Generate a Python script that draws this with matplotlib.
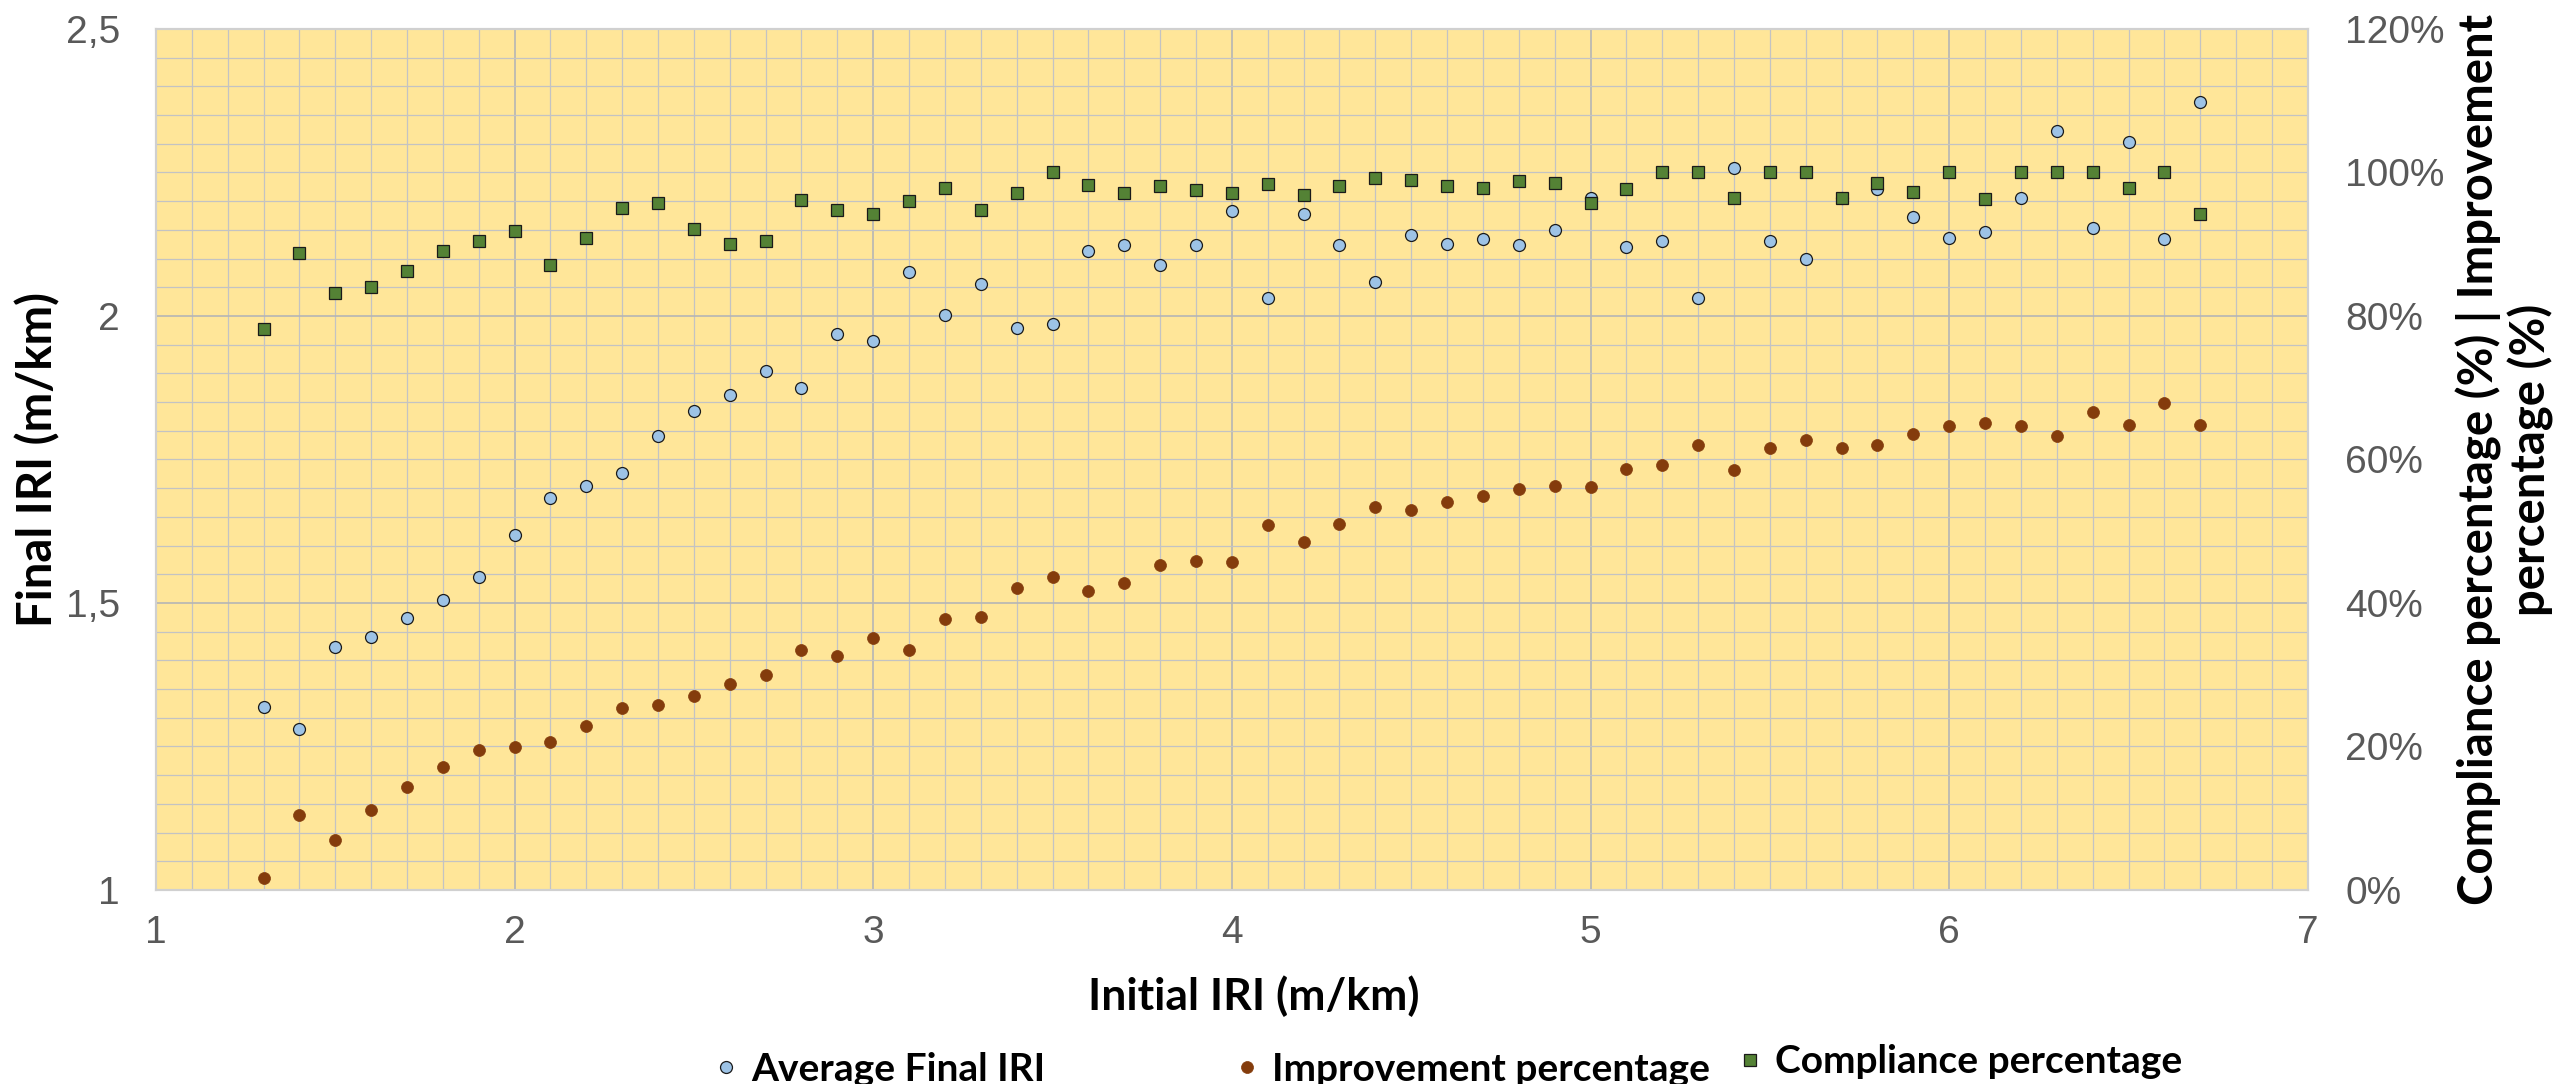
import matplotlib
matplotlib.use('Agg')
import matplotlib.pyplot as plt
from matplotlib.ticker import MultipleLocator, FuncFormatter, PercentFormatter

# Initial IRI classes (m/km)
initial_iri = [1.3, 1.4, 1.5, 1.6, 1.7, 1.8, 1.9, 2.0,
               2.1, 2.2, 2.3, 2.4, 2.5, 2.6, 2.7, 2.8, 2.9, 3.0,
               3.1, 3.2, 3.3, 3.4, 3.5, 3.6, 3.7, 3.8, 3.9, 4.0,
               4.1, 4.2, 4.3, 4.4, 4.5, 4.6, 4.7, 4.8, 4.9, 5.0,
               5.1, 5.2, 5.3, 5.4, 5.5, 5.6, 5.7, 5.8, 5.9, 6.0,
               6.1, 6.2, 6.3, 6.4, 6.5, 6.6, 6.7]

# Average final IRI (m/km), left axis
final_iri = [1.319, 1.280, 1.424, 1.441, 1.473, 1.506, 1.545, 1.618,
             1.683, 1.704, 1.726, 1.791, 1.835, 1.863, 1.904, 1.874, 1.968, 1.956,
             2.076, 2.001, 2.056, 1.979, 1.986, 2.113, 2.124, 2.088, 2.124, 2.182,
             2.031, 2.178, 2.123, 2.059, 2.141, 2.125, 2.134, 2.123, 2.149, 2.206,
             2.120, 2.131, 2.031, 2.257, 2.131, 2.100, 2.205, 2.221, 2.173, 2.136,
             2.146, 2.206, 2.323, 2.153, 2.303, 2.134, 2.373]

# Improvement percentage (%), right axis
improvement_pct = [1.6, 10.5, 6.9, 11.2, 14.4, 17.2, 19.5, 19.9,
                   20.6, 22.9, 25.4, 25.8, 27.0, 28.7, 29.9, 33.4, 32.6, 35.1,
                   33.4, 37.8, 38.0, 42.1, 43.6, 41.7, 42.8, 45.3, 45.9, 45.7,
                   50.8, 48.5, 51.0, 53.4, 52.9, 54.1, 54.9, 55.9, 56.3, 56.2,
                   58.7, 59.2, 62.0, 58.5, 61.6, 62.7, 61.6, 62.0, 63.5, 64.6,
                   65.1, 64.6, 63.3, 66.6, 64.8, 67.9, 64.8]

# Compliance percentage (%), right axis
compliance_pct = [78.2, 88.8, 83.2, 84.0, 86.3, 89.0, 90.5, 91.9,
                  87.1, 90.9, 95.0, 95.7, 92.1, 90.0, 90.5, 96.1, 94.8, 94.2,
                  96.0, 97.8, 94.8, 97.1, 100.0, 98.2, 97.1, 98.1, 97.5, 97.1,
                  98.4, 96.9, 98.1, 99.2, 99.0, 98.1, 97.9, 98.8, 98.5, 95.7,
                  97.7, 100.0, 100.0, 96.5, 100.0, 100.0, 96.5, 98.5, 97.3, 100.0,
                  96.3, 100.0, 100.0, 100.0, 97.8, 100.0, 94.2]

legend_labels = ['Average Final IRI', 'Improvement percentage', 'Compliance percentage']

plt.rcParams['font.family'] = ['Liberation Sans', 'DejaVu Sans']
LABEL_FONT = ['Lato', 'DejaVu Sans']
TICK_COLOR = '#595959'

fig = plt.figure(figsize=(25.6, 10.84), dpi=100)
ax = fig.add_axes([0.0609, 0.179, 0.8406, 0.7943])
ax2 = ax.twinx()

ax.set_facecolor('#FFE699')
ax.set_xlim(1, 7)
ax.set_ylim(1, 2.5)
ax2.set_ylim(0, 120)

# grid every 0.1 on x and every 0.05 on the left axis
ax.xaxis.set_major_locator(MultipleLocator(1))
ax.xaxis.set_minor_locator(MultipleLocator(0.1))
ax.yaxis.set_major_locator(MultipleLocator(0.5))
ax.yaxis.set_minor_locator(MultipleLocator(0.05))
ax2.yaxis.set_major_locator(MultipleLocator(20))
ax.grid(which='major', color='#B5B5B5', linewidth=1.2)
ax.grid(which='minor', color='#C3C3C3', linewidth=0.9)
ax.set_axisbelow(True)

ax.yaxis.set_major_formatter(FuncFormatter(lambda v, _: f'{v:g}'.replace('.', ',')))
ax2.yaxis.set_major_formatter(PercentFormatter(xmax=100, decimals=0))

ax.tick_params(axis='x', which='both', length=0, labelsize=28, labelcolor=TICK_COLOR, pad=18)
ax.tick_params(axis='y', which='both', length=0, labelsize=28, labelcolor=TICK_COLOR, pad=26)
ax2.tick_params(axis='y', which='both', length=0, labelsize=28, labelcolor=TICK_COLOR, pad=27)

for a in (ax, ax2):
    for s in a.spines.values():
        s.set_color('#D0D0D0')
        s.set_linewidth(1.5)

# series
h1, = ax.plot(initial_iri, final_iri, linestyle='none', marker='o', markersize=8.6,
              markerfacecolor='#9DC3E6', markeredgecolor='#1A1A1A', markeredgewidth=0.9)
h2, = ax2.plot(initial_iri, improvement_pct, linestyle='none', marker='o', markersize=8.6,
               markerfacecolor='#843C0C', markeredgecolor='#843C0C', markeredgewidth=0.5)
h3, = ax2.plot(initial_iri, compliance_pct, linestyle='none', marker='s', markersize=8.4,
               markerfacecolor='#548235', markeredgecolor='#1A1A1A', markeredgewidth=0.9)

ax.set_xlabel('Initial IRI (m/km)', fontsize=32, fontweight='bold', family=LABEL_FONT)
ax.xaxis.set_label_coords(0.51, -0.099)
ax.set_ylabel('Final IRI (m/km)', fontsize=34, fontweight='bold', family=LABEL_FONT)
ax.yaxis.set_label_coords(-0.0446, 0.5)
ax2.set_ylabel('Compliance percentage (%) | Improvement\npercentage (%)', fontsize=34,
               fontweight='bold', family=LABEL_FONT, linespacing=1.15)
ax2.yaxis.set_label_coords(1.069, 0.5)

# legend entries placed one by one, like the original layout
legend_pos = [(0.2797, 0.0138), (0.4833, 0.0138), (0.6797, 0.0203)]
for h, lab, (lx, ly) in zip([h1, h2, h3], legend_labels, legend_pos):
    fig.legend(handles=[h], labels=[lab], loc='center left', bbox_to_anchor=(lx, ly),
               frameon=False, handlelength=0.5, handletextpad=0.4, borderpad=0,
               borderaxespad=0, prop={'family': LABEL_FONT, 'weight': 'bold', 'size': 28})

fig.savefig('out.png', dpi=100)
plt.close()
